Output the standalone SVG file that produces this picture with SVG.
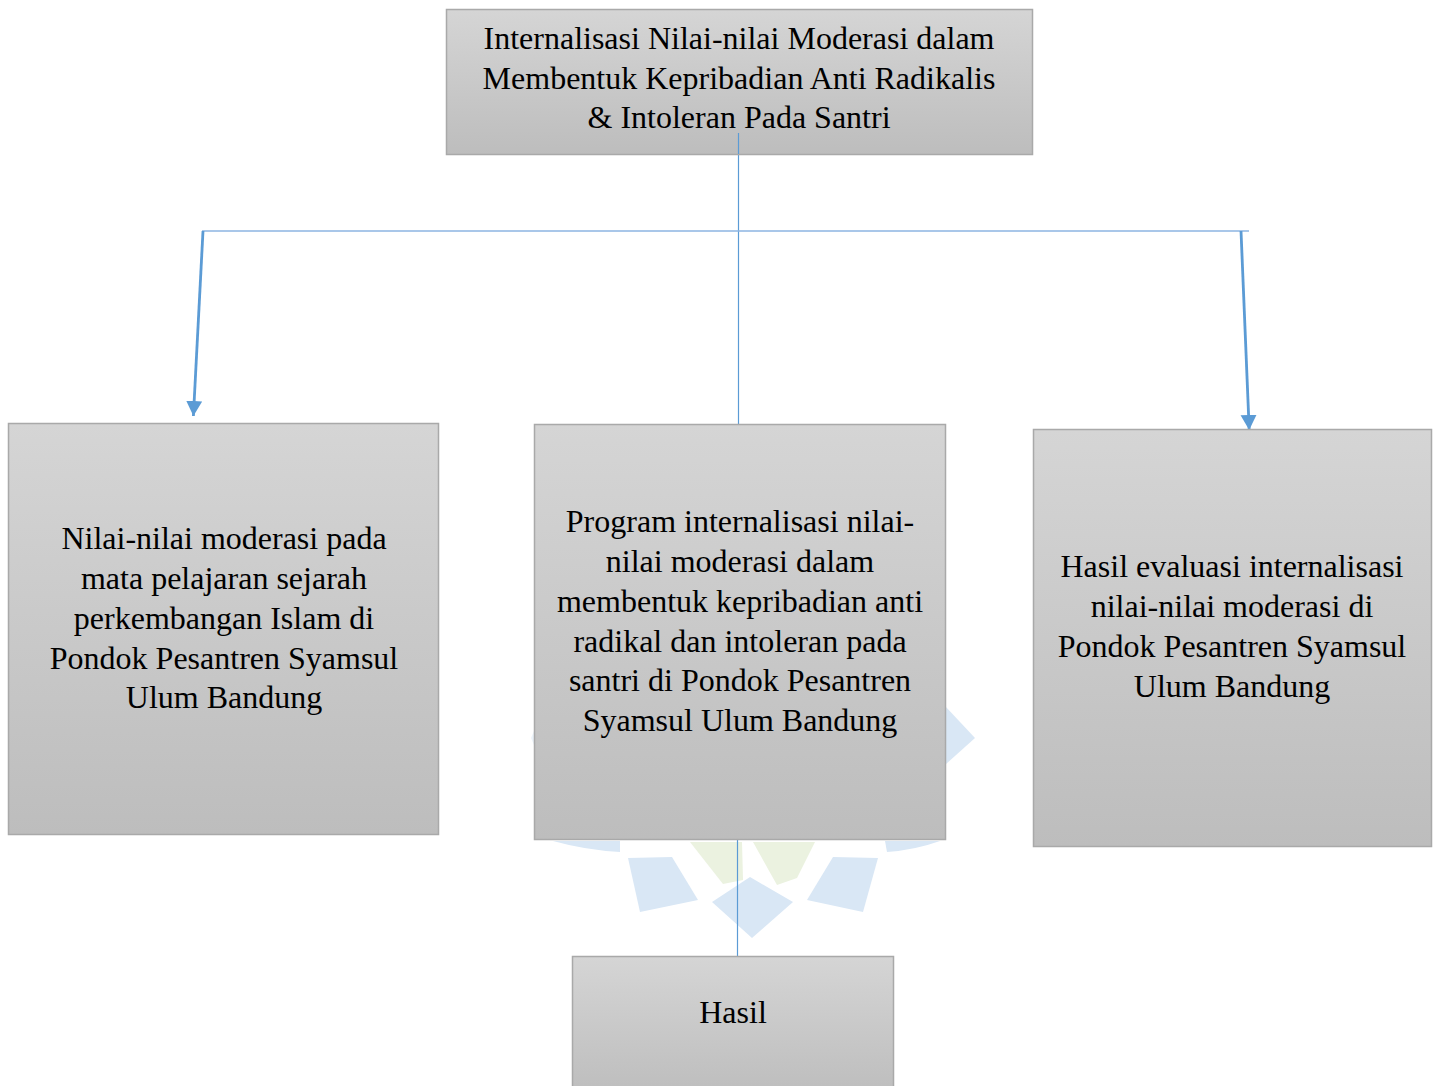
<svg xmlns="http://www.w3.org/2000/svg" width="1437" height="1086" viewBox="0 0 1437 1086">
<defs>
<linearGradient id="g" x1="0" y1="0" x2="0" y2="1">
<stop offset="0" stop-color="#d5d5d5"/>
<stop offset="1" stop-color="#bdbdbd"/>
</linearGradient>
<marker id="ah" markerWidth="18" markerHeight="18" refX="15" refY="8" orient="auto" markerUnits="userSpaceOnUse">
<path d="M0,0 L15,8 L0,16 Z" fill="#5b9bd5"/>
</marker>
<style>
.box{fill:url(#g);stroke:#a9a9a9;stroke-width:1.5}
.t{font-family:"Liberation Serif","Times New Roman",serif;font-size:32px;fill:#000;text-anchor:middle}
.thin{stroke:#5b9bd5;stroke-width:1.2;fill:none}
.bar{stroke:#8db4e2;stroke-width:1.6;fill:none}
.arr{stroke:#5b9bd5;stroke-width:2.8;fill:none}
.wb{fill:#d9e7f5}
.wg{fill:#ebf2e0}
</style>
</defs>
<rect width="1437" height="1086" fill="#fff"/>
<g id="watermark">
<path class="wb" d="M750,877 L793,902 L752,938 L712,902 Z"/>
<path class="wb" d="M628,858 L672,857 L698,900 L640,912 Z"/>
<path class="wb" d="M878,858 L833,857 L807,900 L863,912 Z"/>
<path class="wg" d="M690,842 L742,842 L743,880 L723,884 Z"/>
<path class="wg" d="M753,842 L815,842 L797,878 L777,885 Z"/>
<path class="wb" d="M553,841 L620,841 L620,852 Q585,850 553,841 Z"/>
<path class="wb" d="M885,841 L940,841 Q915,850 887,852 Z"/>
<path class="wb" d="M945,706 L975,738 L946,764 Z"/>
<path class="wb" opacity="0.5" d="M534,731 L531,738 L534,745 Z"/>
</g>
<g id="connectors">
<line class="thin" x1="738.5" y1="133" x2="738.5" y2="424"/>
<line class="bar" x1="202" y1="231" x2="1249" y2="231"/>
<line class="arr" x1="203" y1="231" x2="193.4" y2="416" marker-end="url(#ah)"/>
<line class="arr" x1="1241" y1="231" x2="1249.2" y2="430" marker-end="url(#ah)"/>
<line class="thin" x1="737.5" y1="840" x2="737.5" y2="956"/>
</g>
<g id="node-top">
<rect class="box" x="446.5" y="9.5" width="586" height="145"/>
<text class="t" x="739" y="49">Internalisasi Nilai-nilai Moderasi dalam</text>
<text class="t" x="739" y="89">Membentuk Kepribadian Anti Radikalis</text>
<text class="t" x="739" y="128">&amp; Intoleran Pada Santri</text>
</g>
<line class="thin" x1="738.5" y1="133" x2="738.5" y2="154"/>
<g id="node-left">
<rect class="box" x="8.5" y="423.5" width="430" height="411"/>
<text class="t" x="224" y="549">Nilai-nilai moderasi pada</text>
<text class="t" x="224" y="589">mata pelajaran sejarah</text>
<text class="t" x="224" y="629">perkembangan Islam di</text>
<text class="t" x="224" y="669">Pondok Pesantren Syamsul</text>
<text class="t" x="224" y="708">Ulum Bandung</text>
</g>
<g id="node-middle">
<rect class="box" x="534.5" y="424.5" width="411" height="415"/>
<text class="t" x="740" y="532">Program internalisasi nilai-</text>
<text class="t" x="740" y="572">nilai moderasi dalam</text>
<text class="t" x="740" y="612">membentuk kepribadian anti</text>
<text class="t" x="740" y="652">radikal dan intoleran pada</text>
<text class="t" x="740" y="691">santri di Pondok Pesantren</text>
<text class="t" x="740" y="731">Syamsul Ulum Bandung</text>
</g>
<g id="node-right">
<rect class="box" x="1033.5" y="429.5" width="398" height="417"/>
<text class="t" x="1232" y="577">Hasil evaluasi internalisasi</text>
<text class="t" x="1232" y="617">nilai-nilai moderasi di</text>
<text class="t" x="1232" y="657">Pondok Pesantren Syamsul</text>
<text class="t" x="1232" y="697">Ulum Bandung</text>
</g>
<g id="node-hasil">
<rect class="box" x="572.5" y="956.5" width="321" height="140"/>
<text class="t" x="733" y="1023">Hasil</text>
</g>
</svg>
